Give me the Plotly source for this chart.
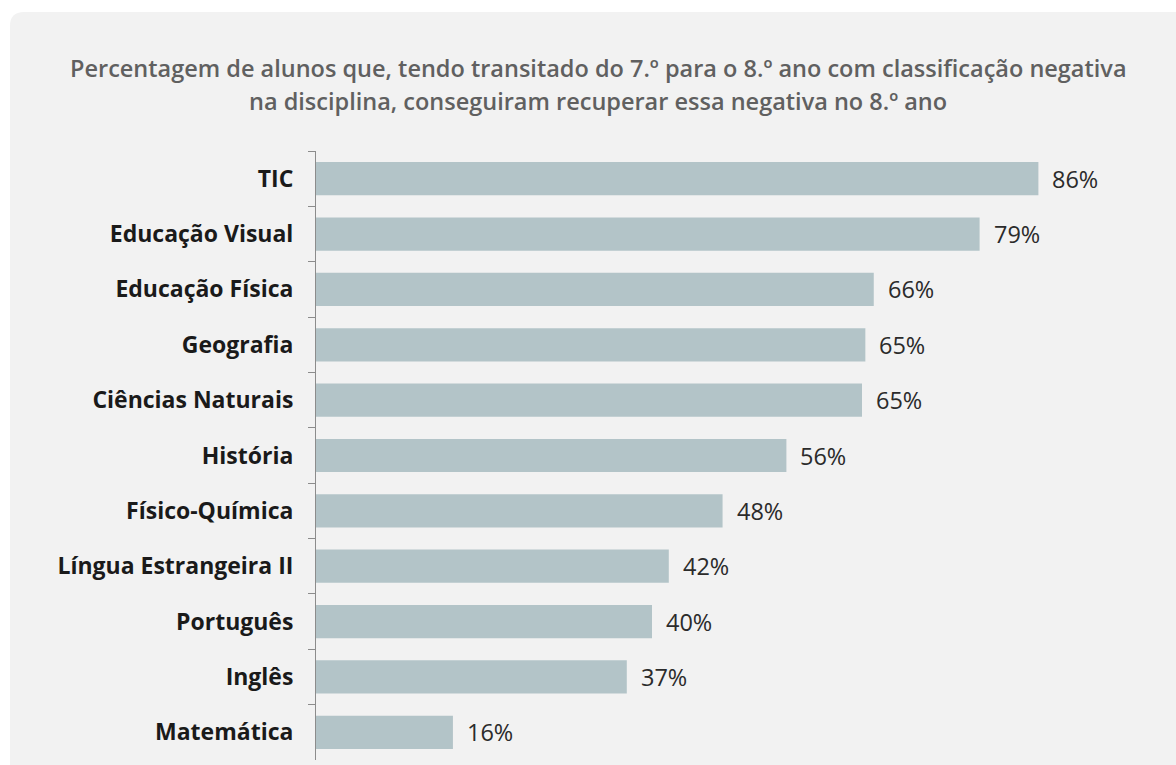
import plotly.graph_objects as go

categories = ["TIC", "Educação Visual", "Educação Física", "Geografia", "Ciências Naturais",
              "História", "Físico-Química", "Língua Estrangeira II", "Português", "Inglês", "Matemática"]
values = [86, 79, 66.4, 65.4, 65.0, 56, 48.4, 42, 40, 37, 16.3]
title_lines = ["Percentagem de alunos que, tendo transitado do 7.º para o 8.º ano com classificação negativa",
               "na disciplina, conseguiram recuperar essa negativa no 8.º ano"]

W, H = 1176, 765
L, R, T, B = 316, 20, 151, 5
pw, ph = W - L - R, H - T - B

def px(x):
    return (x - L) / pw

def py(y):
    return (H - B - y) / ph

FONT = "Open Sans"

fig = go.Figure()
fig.add_trace(go.Bar(
    x=values, y=categories, orientation="h",
    marker=dict(color="#b3c4c8", line=dict(width=0)),
    width=0.6, hoverinfo="skip",
))

for c, v in zip(categories, values):
    fig.add_annotation(x=v, y=c, xref="x", yref="y", text=f"{v:.0f}%",
                       showarrow=False, xanchor="left", xshift=12,
                       font=dict(family=FONT, size=23.5, color="#2b2b2b"))

for i, line in enumerate(title_lines):
    fig.add_annotation(x=px(598), y=py(68 + 33 * i), xref="paper", yref="paper",
                       text=line, showarrow=False, xanchor="center", yanchor="middle",
                       font=dict(family=FONT, size=23.5, color="#606060", weight=600))

# rounded background panel
x0, y0, x1, y1, r = 10, 12, W + 20, H + 20, 14
path = (f"M {px(x0)},{py(y0 + r)} "
        f"Q {px(x0)},{py(y0)} {px(x0 + r)},{py(y0)} "
        f"L {px(x1)},{py(y0)} L {px(x1)},{py(y1)} L {px(x0)},{py(y1)} Z")
fig.add_shape(type="path", path=path, xref="paper", yref="paper",
              fillcolor="#f2f2f2", line=dict(width=0), layer="below")

fig.update_layout(
    width=W, height=H,
    margin=dict(l=L, r=R, t=T, b=B),
    paper_bgcolor="white", plot_bgcolor="rgba(0,0,0,0)",
    showlegend=False,
    font=dict(family=FONT),
)
fig.update_xaxes(range=[0, 100], visible=False, showgrid=False)
fig.update_yaxes(
    autorange="reversed", type="category",
    showline=True, linecolor="#8c8c8c", linewidth=1,
    ticks="outside", tickson="boundaries", ticklen=7, tickcolor="#8c8c8c",
    ticklabelstandoff=17,
    tickfont=dict(family=FONT, size=23, color="#1a1a1a", weight="bold"),
    showgrid=False,
)

fig.write_html("out.html", config={"displayModeBar": False},
               post_script="document.body.style.margin='0';document.body.style.overflow='hidden';")
